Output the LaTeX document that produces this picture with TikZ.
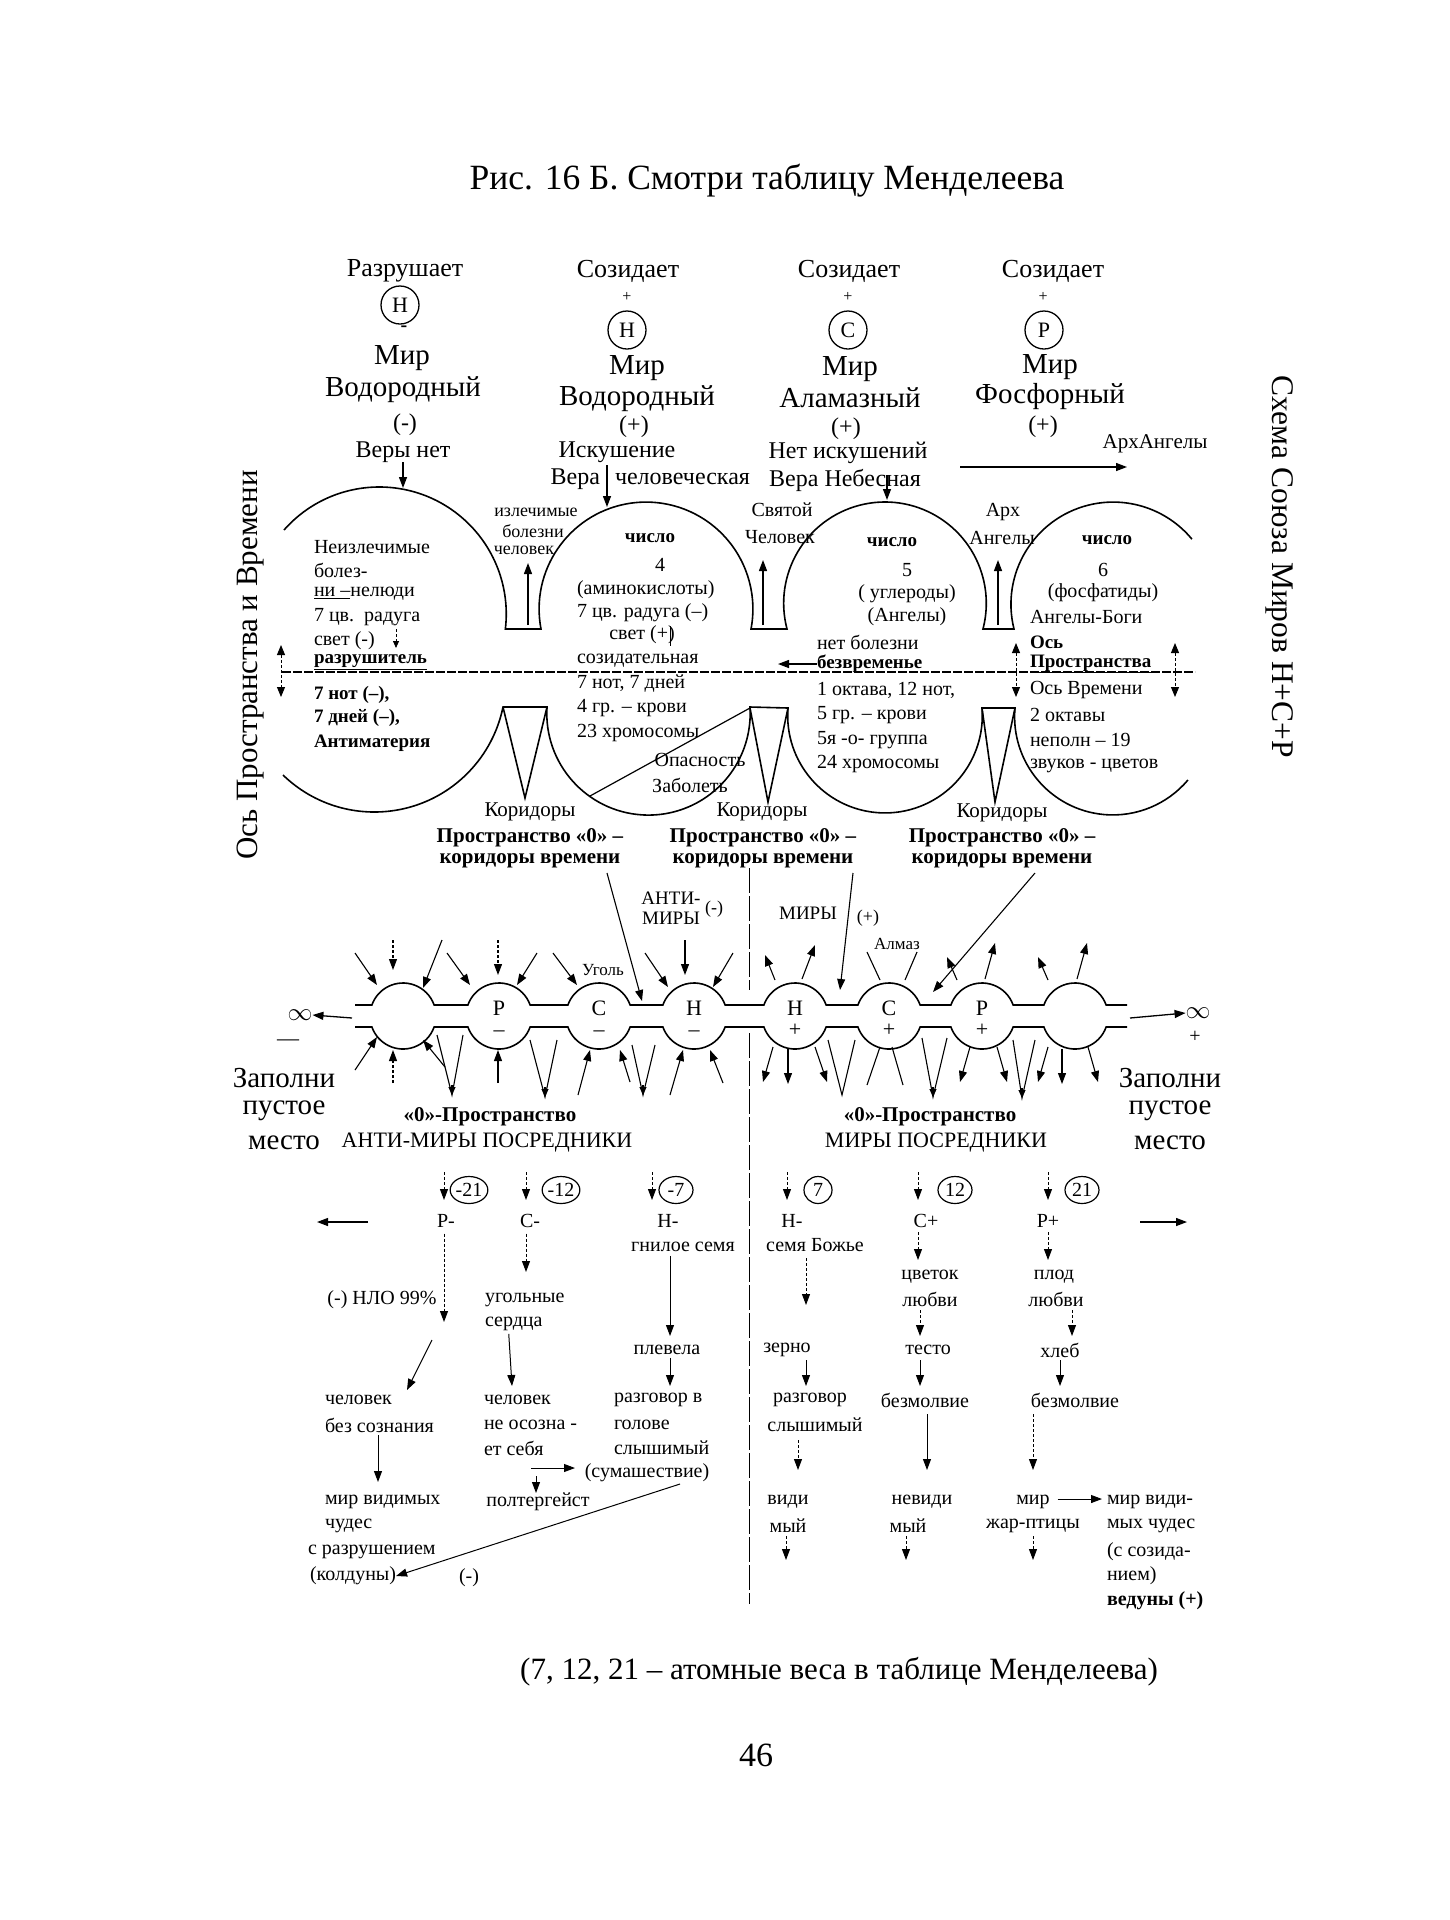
\documentclass[tikz,border=0pt]{standalone}
\usepackage{fontspec}
\setmainfont{Liberation Serif}
\usetikzlibrary{arrows.meta,shapes.geometric}
\newcommand\fsz[2]{\fontsize{#1}{#2}\selectfont}
\begin{document}
\begin{tikzpicture}[x=1pt,y=-1pt,
  every node/.style={inner sep=0pt, outer sep=0pt},
  tx/.style={font=\fsz{20}{24}},
  tb/.style={font=\bfseries\fsz{19}{24}},
  tbb/.style={font=\bfseries\fsz{21}{24}},
  hd/.style={font=\fsz{29}{32}},
  md/.style={font=\fsz{24}{28}},
  hr/.style={font=\fsz{26}{28}},
  big/.style={font=\fsz{29}{32}},
  ln/.style={line width=1.6pt},
  arr/.style={line width=1.3pt,-{Triangle[length=11pt,width=8pt]}},
  darr/.style={line width=1pt,{Triangle[length=10pt,width=8pt]}-{Triangle[length=10pt,width=8pt]}},
  dotl/.style={dash pattern=on 3pt off 2pt},
  elem/.style={circle,draw,line width=1.3pt,minimum size=38pt,font=\fsz{22}{22}},
  numb/.style={ellipse,draw,line width=1.2pt,minimum width=34pt,minimum height=27pt,font=\fsz{20}{20}}
]
\useasboundingbox (0,0) rectangle (1450,1920);
\fill[white] (0,0) rectangle (1450,1920);

% ---------- title ----------
\node[font=\fsz{35.5}{38}] (title) at (767,181) {Рис. 16 Б. Смотри таблицу Менделеева};

% ---------- column headers ----------
\node[hr] (soz1) at (405,271) {Разрушает};
\node[elem] (e1) at (400,305) {Н};
\node[font=\bfseries\fsz{20}{20}] (s1) at (404,329) {-};
\node[hd] (mir1) at (402,358) {Мир};
\node[hd] (vod1) at (403,390) {Водородный};
\node[md] (pm1) at (405,425) {(-)};
\node[md] (vn1) at (403,452) {Веры нет};
\coordinate (d1top) at (403,488);
\draw[arr] (vn1.south) -- (d1top);

\node[hr] (soz2) at (628,271) {Созидает};
\node[font=\fsz{16}{16}] (s2) at (627,297) {+};
\node[elem] (e2) at (627,330) {Н};
\node[hd] (mir2) at (637,368) {Мир};
\node[hd] (vod2) at (637,399) {Водородный};
\node[md] (pp2) at (634,427) {(+)};
\node[md] (isk) at (617,452) {Искушение};
\node[md,anchor=east] (vera2) at (600,479) {Вера};
\node[md,anchor=west] (chel2) at (615,479) {человеческая};
\coordinate (v2s) at (607,465);
\coordinate (d2top) at (607,507);
\draw[arr] (v2s) -- (d2top);

\node[hr] (soz3) at (849,271) {Созидает};
\node[font=\fsz{16}{16}] (s3) at (848,297) {+};
\node[elem] (e3) at (848,330) {С};
\node[hd] (mir3) at (850,369) {Мир};
\node[hd] (alm) at (850,398) {Аламазный};
\node[md] (pp3) at (846,429) {(+)};
\node[md] (netisk) at (848,453) {Нет искушений};
\node[md] (verneb) at (845,480) {Вера Небесная};
\coordinate (v3s) at (887,475);
\coordinate (d3top) at (887,500);
\draw[arr] (v3s) -- (d3top);

\node[hr] (soz4) at (1053,271) {Созидает};
\node[font=\fsz{16}{16}] (s4) at (1043,297) {+};
\node[elem] (e4) at (1044,330) {Р};
\node[hd] (mir4) at (1050,367) {Мир};
\node[hd] (fosf) at (1050,397) {Фосфорный};
\node[md] (pp4) at (1043,427) {(+)};
\node[font=\fsz{21}{22}] (arh) at (1155,444) {АрхАнгелы};
\coordinate (arhs) at (960,467);
\coordinate (arhe) at (1127,467);
\draw[arr] (arhs) -- (arhe);

% ---------- side titles ----------
\node[font=\fsz{31.5}{33},rotate=-90] (schema) at (1280,567) {Схема Союза Миров Н+С+Р};
\node[font=\fsz{31}{33},rotate=90] (osL) at (251,665) {Ось Пространства и Времени};

% ---------- domes (upper) ----------
\draw[ln] (284,530) arc[start angle=221.4,end angle=366.8,radius=127]
  -- (541,629) arc[start angle=169.2,end angle=370.8,radius=106.9]
  -- (787,629) arc[start angle=165.3,end angle=374.7,radius=101.3]
  -- (1014,629) arc[start angle=166.0,end angle=320.4,radius=102.2];
% ---------- lower half ----------
\draw[ln] (283,775) arc[start angle=134.1,end angle=11.55,radius=131.3]
  -- (547,707) arc[start angle=183.6,end angle=-3.6,radius=101.7]
  -- (788,708) arc[start angle=184.5,end angle=-4.5,radius=97.3]
  -- (1015,708) arc[start angle=185.1,end angle=40.1,radius=98.2];
\draw[ln] (503,707) -- (525,798) -- (547,707);
\draw[ln] (750,708) -- (768,802) -- (788,708);
\draw[ln] (982,708) -- (995,802) -- (1015,708);
% axis
\draw[line width=1.2pt,dash pattern=on 9pt off 2pt] (282,672) -- (1195,672);

% funnel arrows & labels
\draw[arr] (528,625) -- (528,563);
\draw[arr] (763,625) -- (763,560);
\draw[arr] (998,625) -- (998,560);
\node[font=\fsz{18}{18}] (izl1) at (536,512) {излечимые};
\node[font=\fsz{18}{18}] (izl2) at (533,531) {болезни};
\node[font=\fsz{18}{18}] (izl3) at (524,550) {человек};
\node[font=\fsz{20}{20}] (sv1) at (782,510) {Святой};
\node[font=\fsz{20}{20}] (sv2) at (780,537) {Человек};
\node[font=\fsz{20}{20}] (ar1) at (1003,512) {Арх};
\node[font=\fsz{20}{20}] (ar2) at (1002,538) {Ангелы};

% dome 1 text
\node[tx,anchor=west] (t11) at (314,547) {Неизлечимые};
\node[tx,anchor=west] (t12) at (314,570) {болез-};
\node[tx,anchor=west] (t13) at (314,594) {\underline{ни –}нелюди};
\node[tx,anchor=west] (t14) at (314,617) {7 цв.\ \ радуга};
\node[tx,anchor=west] (t15) at (314,641) {свет (-)};
\draw[line width=0.8pt,-{Triangle[length=7pt,width=6pt]},dotl] (396,629) -- (396,648);
\node[tb,anchor=west] (t16) at (314,662) {\underline{разрушитель}};
\node[tb,anchor=west] (t17) at (314,695) {7 нот (–),};
\node[tb,anchor=west] (t18) at (314,718) {7 дней (–),};
\node[tb,anchor=west] (t19) at (314,743) {Антиматерия};
\draw[darr,dotl] (281,645) -- (281,697);

% dome 2 text
\node[tb] (t21) at (650,538) {число};
\node[tx] (t22) at (660,565) {4};
\node[tx,anchor=west] (t23) at (577,590) {(аминокислоты)};
\node[tx,anchor=west] (t24) at (577,613) {7 цв. радуга (–)};
\node[tx] (t25) at (642,635) {свет (+)};
\draw[line width=0.8pt] (670,626) -- (670,646);
\node[tx,anchor=west] (t26) at (577,661) {созидательная};
\node[tx,anchor=west] (t27) at (577,684) {7 нот, 7 дней};
\node[tx,anchor=west] (t28) at (577,708) {4 гр. – крови};
\node[tx,anchor=west] (t29) at (577,733) {23 хромосомы};
\node[tx] (op1) at (700,760) {Опасность};
\node[tx] (op2) at (690,785) {Заболеть};
\draw[line width=1.2pt] (590,796) -- (750,708);

% dome 3 text
\node[tb] (t31) at (892,542) {число};
\node[tx] (t32) at (907,570) {5};
\node[tx] (t33) at (907,594) {( углероды)};
\node[tx] (t34) at (907,617) {(Ангелы)};
\node[tx,anchor=west] (t35) at (817,642) {нет болезни};
\node[tb,anchor=west] (t36) at (817,664) {безвременье};
\draw[arr] (t36.west) -- (778,664);
\node[tx,anchor=west] (t37) at (817,690) {1 октава, 12 нот,};
\node[tx,anchor=west] (t38) at (817,715) {5 гр. – крови};
\node[tx,anchor=west] (t39) at (817,740) {5я -о- группа};
\node[tx,anchor=west] (t3a) at (817,764) {24 хромосомы};

% dome 4 text
\node[tb] (t41) at (1107,540) {число};
\node[tx] (t42) at (1103,570) {6};
\node[tx] (t43) at (1103,593) {(фосфатиды)};
\node[tx,anchor=west] (t44) at (1030,617) {Ангелы-Боги};
\node[tb,anchor=west] (t45) at (1030,642) {Ось};
\node[tb,anchor=west] (t46) at (1030,664) {\underline{Пространства}};
\node[tx,anchor=west] (t47) at (1030,690) {Ось Времени};
\node[tx,anchor=west] (t48) at (1030,715) {2 октавы};
\node[tx,anchor=west] (t49) at (1030,740) {неполн – 19};
\node[tx,anchor=west] (t4a) at (1030,766) {звуков - цветов};
\draw[darr,dotl] (1016,643) -- (1016,697);
\draw[darr,dotl] (1175,643) -- (1175,697);

% corridors
\node[font=\fsz{21}{22}] (kor1) at (530,812) {Коридоры};
\node[font=\fsz{21}{22}] (kor2) at (762,812) {Коридоры};
\node[font=\fsz{21}{22}] (kor3) at (1002,813) {Коридоры};
\node[tbb] (pr1) at (530,838) {Пространство «0» –};
\node[tbb] (kv1) at (530,861) {коридоры времени};
\node[tbb] (pr2) at (763,838) {Пространство «0» –};
\node[tbb] (kv2) at (763,861) {коридоры времени};
\node[tbb] (pr3) at (1002,838) {Пространство «0» –};
\node[tbb] (kv3) at (1002,861) {коридоры времени};

% ---------- middle ----------
\node[font=\fsz{19}{20}] (anti1) at (671,898) {АНТИ-};
\node[font=\fsz{19}{20}] (anti2) at (671,918) {МИРЫ};
\node[font=\fsz{18}{20}] (antim) at (714,909) {(-)};
\node[font=\fsz{19}{20}] (miry) at (808,913) {МИРЫ};
\node[font=\fsz{18}{20}] (miryp) at (868,918) {(+)};
\node[font=\fsz{17}{18}] (almaz) at (897,944) {Алмаз};
\node[font=\fsz{17}{18}] (ugol) at (603,970) {Уголь};
\draw[line width=0.9pt,dash pattern=on 25pt off 3pt] (749,868) -- (749,990);
\draw[line width=0.9pt,dash pattern=on 25pt off 3pt] (749,1033) -- (749,1604);

\coordinate (k1s) at (607,873);
\coordinate (k1e) at (642,1001);
\coordinate (k2s) at (853,873);
\coordinate (k2e) at (840,990);
\coordinate (k3s) at (1035,873);
\coordinate (k3e) at (933,992);
\draw[arr,line width=1.1pt] (k1s) -- (k1e);
\draw[arr,line width=1.1pt] (k2s) -- (k2e);
\draw[arr,line width=1.1pt] (k3s) -- (k3e);

% chain of bubbles
\draw[ln] (355,1005) \foreach \x in {403,499,599,694,795,889,982,1075} { -- ({\x-31.1},1005) arc[start angle=199.47,end angle=340.53,radius=33] } -- (1127,1005);
\draw[ln] (355,1027) \foreach \x in {403,499,599,694,795,889,982,1075} { -- ({\x-31.1},1027) arc[start angle=160.53,end angle=19.47,radius=33] } -- (1127,1027);
\foreach \x/\l/\s/\n in {499/Р/–/bP,599/С/–/bC,694/Н/–/bH,795/Н/+/bHp,889/С/+/bCp,982/Р/+/bPp}{
  \node[font=\fsz{22}{21},align=center] (\n) at (\x,1019) {\l\\\s};
}
% infinity
\node[font=\fsz{36}{36}] (infL) at (300,1015) {$\infty$};
\node[font=\fsz{22}{22}] (infLs) at (288,1043) {—};
\draw[arr] (352,1018) -- (infL.east);
\node[font=\fsz{36}{36}] (infR) at (1198,1013) {$\infty$};
\node[font=\fsz{20}{20}] (infRs) at (1195,1037) {+};
\draw[arr] (1130,1018) -- (infR.west);

% arrows around chain: inward (left), outward (right)
\foreach \a/\b/\c/\d in {355/953/377/985, 442/940/423/988, 447/953/470/985, 537/953/517/985, 553/953/577/985, 645/953/668/987, 685/940/685/975, 733/953/713/987,
  355/1070/377/1037, 445/1067/423/1040, 498/1083/498/1050, 578/1095/590/1050, 630/1082/620/1050, 670/1095/683/1050, 723/1083/710/1050,
  775/980/765/955, 802/979/815/945, 957/980/947/957, 985/979/995/943, 1048/980/1038/957, 1077/979/1087/943,
  773/1047/763/1082, 788/1049/788/1084, 815/1047/827/1082, 970/1047/960/1082, 997/1047/1007/1082, 1048/1047/1038/1082, 1062/1049/1062/1084, 1088/1047/1098/1082}
  { \draw[arr,line width=1.1pt] (\a,\b) -- (\c,\d); }
\foreach \a/\b/\c/\d in {393/940/393/970, 498/940/498/975, 393/1083/393/1050}
  { \draw[arr,line width=1.1pt,dotl] (\a,\b) -- (\c,\d); }
% V shapes below
\foreach \a/\b/\c/\d/\e in {437/452/463/1035/1095, 530/545/557/1040/1097, 632/643/655/1045/1095, 922/933/947/1038/1097, 1013/1022/1035/1040/1098}
  { \draw[line width=1.1pt] (\a,\d) -- (\b,\e) -- (\c,\d);
    \draw[line width=1.1pt,-{Triangle[length=8pt,width=7pt]}] (\b,{\e-10}) -- (\b,\e); }
\draw[line width=1.1pt] (828,1040) -- (842,1095) -- (855,1040);
\draw[line width=1.1pt] (880,1047) -- (867,1085);
\draw[line width=1.1pt] (892,1047) -- (903,1085);
\draw[line width=1.1pt] (867,952) -- (880,980);
\draw[line width=1.1pt] (917,952) -- (905,980);

% labels below chain
\node[big] (zap1) at (284,1078) {Заполни};
\node[big] (zap2) at (284,1111) {пустое};
\node[big] (zap3) at (284,1143) {место};
\node[big] (zpr1) at (1170,1078) {Заполни};
\node[big] (zpr2) at (1170,1111) {пустое};
\node[big] (zpr3) at (1170,1143) {место};
\node[tbb] (npL) at (490,1117) {«0»-Пространство};
\node[font=\fsz{22}{24}] (amp) at (487,1143) {АНТИ-МИРЫ ПОСРЕДНИКИ};
\node[tbb] (npR) at (930,1117) {«0»-Пространство};
\node[font=\fsz{22}{24}] (mp) at (936,1143) {МИРЫ ПОСРЕДНИКИ};

% ---------- bottom left ----------
\node[numb] (n21m) at (469,1190) {-21};
\node[numb] (n12m) at (561,1190) {-12};
\node[numb] (n7m) at (676,1190) {-7};
\node[numb,minimum width=28pt] (n7) at (818,1190) {7};
\node[numb] (n12) at (955,1190) {12};
\node[numb] (n21) at (1082,1190) {21};
\foreach \x in {444,526,652,787,918,1048}
  { \draw[arr,line width=1pt,dotl] (\x,1172) -- (\x,1200); }
\node[tx] (pm) at (446,1221) {Р-};
\node[tx] (cm) at (530,1221) {С-};
\node[tx] (hm) at (668,1221) {Н-};
\node[tx] (hp) at (792,1221) {Н-};
\node[tx] (cp) at (926,1221) {С+};
\node[tx] (pp) at (1048,1221) {Р+};
\coordinate (lfa) at (368,1222);
\coordinate (lfb) at (317,1222);
\draw[arr] (lfa) -- (lfb);
\coordinate (rfa) at (1140,1222);
\coordinate (rfb) at (1187,1222);
\draw[arr] (rfa) -- (rfb);

\node[tx] (gnil) at (683,1247) {гнилое семя};
\node[tx] (nlo) at (382,1300) {(-) НЛО 99\%};
\node[tx,anchor=west] (ugol1) at (485,1300) {угольные};
\node[tx,anchor=west] (ugol2) at (485,1324) {сердца};
\node[tx] (plev) at (667,1350) {плевела};
\draw[arr,line width=1pt,dotl] (pm.south) ++(-2,6) -- (444,1322);
\draw[arr,line width=1pt,dotl] (cm.south) ++(-4,6) -- (526,1272);
\draw[arr,line width=1pt] (gnil.south) ++(-13,4) -- (670,1336);
\coordinate (c1a) at (432,1340);
\coordinate (c1b) at (407,1390);
\draw[arr,line width=1pt] (c1a) -- (c1b);
\draw[arr,line width=1pt] (ugol2.south) ++(-5,3) -- (512,1386);
\draw[arr,line width=1pt] (plev.south) ++(3,3) -- (670,1386);

\node[tx,anchor=west] (ch1) at (325,1400) {человек};
\node[tx,anchor=west] (ch1b) at (325,1425) {без сознания};
\node[tx,anchor=west] (ch2) at (484,1400) {человек};
\node[tx,anchor=west] (ch2b) at (484,1425) {не осозна -};
\node[tx,anchor=west] (ch2c) at (484,1448) {ет себя};
\node[tx,anchor=west] (rg1) at (614,1400) {разговор в};
\node[tx,anchor=west] (rg2) at (614,1425) {голове};
\node[tx,anchor=west] (rg3) at (614,1448) {слышимый};
\node[tx] (sum) at (647,1473) {(сумашествие)};
\draw[arr,line width=1pt] (378,1435) -- (378,1482);
\draw[arr,line width=1pt] (531,1468) -- (575,1468);
\draw[arr,line width=1pt] (536,1476) -- (536,1493);
\node[tx] (polt) at (538,1502) {полтергейст};
\node[tx,anchor=west] (mv1) at (325,1502) {мир видимых};
\node[tx,anchor=west] (mv2) at (325,1526) {чудес};
\node[tx,anchor=west] (mv3) at (308,1552) {с разрушением};
\node[tx,anchor=west] (mv4) at (310,1576) {(колдуны)};
\draw[arr,line width=1pt] (680,1484) -- (mv4.east);
\node[tx] (minus) at (469,1578) {(-)};

% ---------- bottom right ----------
\node[tx] (semb) at (815,1245) {семя Божье};
\draw[arr,line width=1pt,dotl] (806,1258) -- (806,1305);
\node[tx] (zer) at (787,1350) {зерно};
\draw[arr,line width=1pt] (806,1360) -- (806,1386);
\node[tx] (rz) at (810,1400) {разговор};
\node[tx] (sl) at (815,1425) {слышимый};
\draw[arr,line width=1pt,dotl] (798,1440) -- (798,1470);
\node[tx] (vid1) at (788,1502) {види};
\node[tx] (vid2) at (788,1526) {мый};
\draw[arr,line width=1pt,dotl] (786,1536) -- (786,1560);

\draw[arr,line width=1pt,dotl] (918,1232) -- (918,1260);
\node[tx] (cvet1) at (930,1277) {цветок};
\node[tx] (cvet2) at (930,1299) {любви};
\draw[arr,line width=1pt,dotl] (920,1310) -- (920,1336);
\node[tx] (test) at (928,1350) {тесто};
\draw[arr,line width=1pt] (920,1360) -- (920,1386);
\node[tx] (bez1) at (925,1400) {безмолвие};
\draw[arr,line width=1pt] (927,1414) -- (927,1470);
\node[tx] (nv1) at (922,1502) {невиди};
\node[tx] (nv2) at (908,1526) {мый};
\draw[arr,line width=1pt,dotl] (906,1536) -- (906,1560);

\draw[arr,line width=1pt,dotl] (1048,1232) -- (1048,1260);
\node[tx] (plod1) at (1054,1277) {плод};
\node[tx] (plod2) at (1056,1299) {любви};
\draw[arr,line width=1pt,dotl] (1072,1310) -- (1072,1336);
\node[tx] (hleb) at (1060,1350) {хлеб};
\draw[arr,line width=1pt] (1060,1360) -- (1060,1386);
\node[tx] (bez2) at (1075,1400) {безмолвие};
\draw[arr,line width=1pt,dotl] (1033,1414) -- (1033,1470);
\node[tx] (zp1) at (1033,1502) {мир};
\node[tx] (zp2) at (1033,1526) {жар-птицы};
\draw[arr,line width=1pt,dotl] (1033,1536) -- (1033,1560);
\draw[arr,line width=1pt] (zp1.east) ++(8,-3) -- (1102,1499);
\node[tx,anchor=west] (mr1) at (1107,1502) {мир види-};
\node[tx,anchor=west] (mr2) at (1107,1526) {мых чудес};
\node[tx,anchor=west] (mr3) at (1107,1552) {(с созида-};
\node[tx,anchor=west] (mr4) at (1107,1576) {нием)};
\node[tbb,anchor=west,font=\bfseries\fsz{20}{24}] (mr5) at (1107,1601) {ведуны (+)};

% ---------- caption ----------
\node[font=\fsz{31}{33}] (cap) at (839,1672) {(7, 12, 21 – атомные веса в таблице Менделеева)};
\node[font=\fsz{34}{34}] (page) at (756,1755) {46};
\end{tikzpicture}
\end{document}
